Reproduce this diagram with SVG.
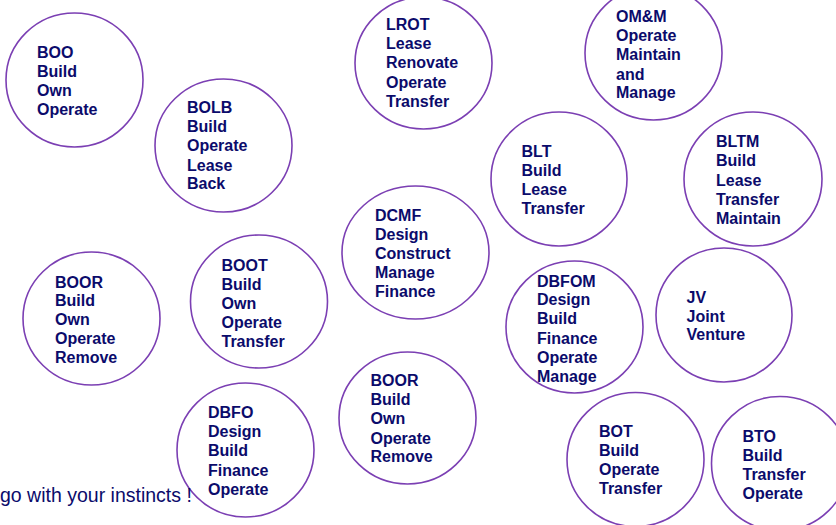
<svg xmlns="http://www.w3.org/2000/svg" width="836" height="525" viewBox="0 0 836 525">
<style>
.c{fill:none;stroke:#7b3fb3;stroke-width:1.6}
.t{font-family:"Liberation Sans",Arial,sans-serif;font-size:16px;font-weight:bold;fill:#0b0b6b}
.n{font-family:"Liberation Sans",Arial,sans-serif;font-size:19.5px;fill:#0b0b6b}
</style>
<rect width="836" height="525" fill="#ffffff"/>
<g id="connectors"></g>
<g id="boo"><ellipse class="c" cx="74.5" cy="80" rx="68.5" ry="67"/>
<text class="t"><tspan x="37" y="58">BOO</tspan><tspan x="37" y="77">Build</tspan><tspan x="37" y="96">Own</tspan><tspan x="37" y="115">Operate</tspan></text></g>
<g id="bolb"><ellipse class="c" cx="223.5" cy="145.5" rx="68.5" ry="66.5"/>
<text class="t"><tspan x="187" y="113">BOLB</tspan><tspan x="187" y="132">Build</tspan><tspan x="187" y="151">Operate</tspan><tspan x="187" y="171">Lease</tspan><tspan x="187" y="189">Back</tspan></text></g>
<g id="lrot"><ellipse class="c" cx="423.5" cy="63" rx="68.5" ry="66"/>
<text class="t"><tspan x="386" y="30">LROT</tspan><tspan x="386" y="49">Lease</tspan><tspan x="386" y="68">Renovate</tspan><tspan x="386" y="88">Operate</tspan><tspan x="386" y="107">Transfer</tspan></text></g>
<g id="omm"><ellipse class="c" cx="653.5" cy="53" rx="68.5" ry="67"/>
<text class="t"><tspan x="616" y="22">OM&amp;M</tspan><tspan x="616" y="41">Operate</tspan><tspan x="616" y="60">Maintain</tspan><tspan x="616" y="80">and</tspan><tspan x="616" y="98">Manage</tspan></text></g>
<g id="blt"><ellipse class="c" cx="559" cy="179" rx="68" ry="67"/>
<text class="t"><tspan x="521.5" y="157">BLT</tspan><tspan x="521.5" y="176">Build</tspan><tspan x="521.5" y="195">Lease</tspan><tspan x="521.5" y="214">Transfer</tspan></text></g>
<g id="bltm"><ellipse class="c" cx="753" cy="179" rx="69" ry="67"/>
<text class="t"><tspan x="716" y="147">BLTM</tspan><tspan x="716" y="166">Build</tspan><tspan x="716" y="186">Lease</tspan><tspan x="716" y="205">Transfer</tspan><tspan x="716" y="224">Maintain</tspan></text></g>
<g id="dcmf"><ellipse class="c" cx="415.5" cy="252.5" rx="73.5" ry="66.5"/>
<text class="t"><tspan x="375" y="221">DCMF</tspan><tspan x="375" y="240">Design</tspan><tspan x="375" y="259">Construct</tspan><tspan x="375" y="278">Manage</tspan><tspan x="375" y="297">Finance</tspan></text></g>
<g id="boor1"><ellipse class="c" cx="91.5" cy="318.5" rx="68.5" ry="66.5"/>
<text class="t"><tspan x="55" y="288">BOOR</tspan><tspan x="55" y="306">Build</tspan><tspan x="55" y="325">Own</tspan><tspan x="55" y="344">Operate</tspan><tspan x="55" y="363">Remove</tspan></text></g>
<g id="boot"><ellipse class="c" cx="259" cy="301.5" rx="68.5" ry="66.5"/>
<text class="t"><tspan x="221.5" y="271">BOOT</tspan><tspan x="221.5" y="290">Build</tspan><tspan x="221.5" y="309">Own</tspan><tspan x="221.5" y="328">Operate</tspan><tspan x="221.5" y="347">Transfer</tspan></text></g>
<g id="dbfom"><ellipse class="c" cx="574.5" cy="327" rx="68.5" ry="66"/>
<text class="t"><tspan x="537" y="287">DBFOM</tspan><tspan x="537" y="305">Design</tspan><tspan x="537" y="324">Build</tspan><tspan x="537" y="344">Finance</tspan><tspan x="537" y="363">Operate</tspan><tspan x="537" y="382">Manage</tspan></text></g>
<g id="jv"><ellipse class="c" cx="724" cy="315" rx="68" ry="67"/>
<text class="t"><tspan x="686.5" y="303">JV</tspan><tspan x="686.5" y="322">Joint</tspan><tspan x="686.5" y="340">Venture</tspan></text></g>
<g id="boor2"><ellipse class="c" cx="407.5" cy="418" rx="68.5" ry="66"/>
<text class="t"><tspan x="370.5" y="386">BOOR</tspan><tspan x="370.5" y="405">Build</tspan><tspan x="370.5" y="424">Own</tspan><tspan x="370.5" y="444">Operate</tspan><tspan x="370.5" y="462">Remove</tspan></text></g>
<g id="dbfo"><ellipse class="c" cx="245.5" cy="450" rx="68.5" ry="67"/>
<text class="t"><tspan x="208" y="418">DBFO</tspan><tspan x="208" y="437">Design</tspan><tspan x="208" y="456">Build</tspan><tspan x="208" y="476">Finance</tspan><tspan x="208" y="495">Operate</tspan></text></g>
<g id="bot"><ellipse class="c" cx="635.5" cy="459.5" rx="68.5" ry="67"/>
<text class="t"><tspan x="599" y="437">BOT</tspan><tspan x="599" y="456">Build</tspan><tspan x="599" y="475">Operate</tspan><tspan x="599" y="494">Transfer</tspan></text></g>
<g id="bto"><ellipse class="c" cx="780" cy="463.5" rx="68.5" ry="67"/>
<text class="t"><tspan x="742.5" y="442">BTO</tspan><tspan x="742.5" y="461">Build</tspan><tspan x="742.5" y="480">Transfer</tspan><tspan x="742.5" y="499">Operate</tspan></text></g>
<text id="note" class="n" x="0" y="502">go with your instincts !</text>
</svg>
